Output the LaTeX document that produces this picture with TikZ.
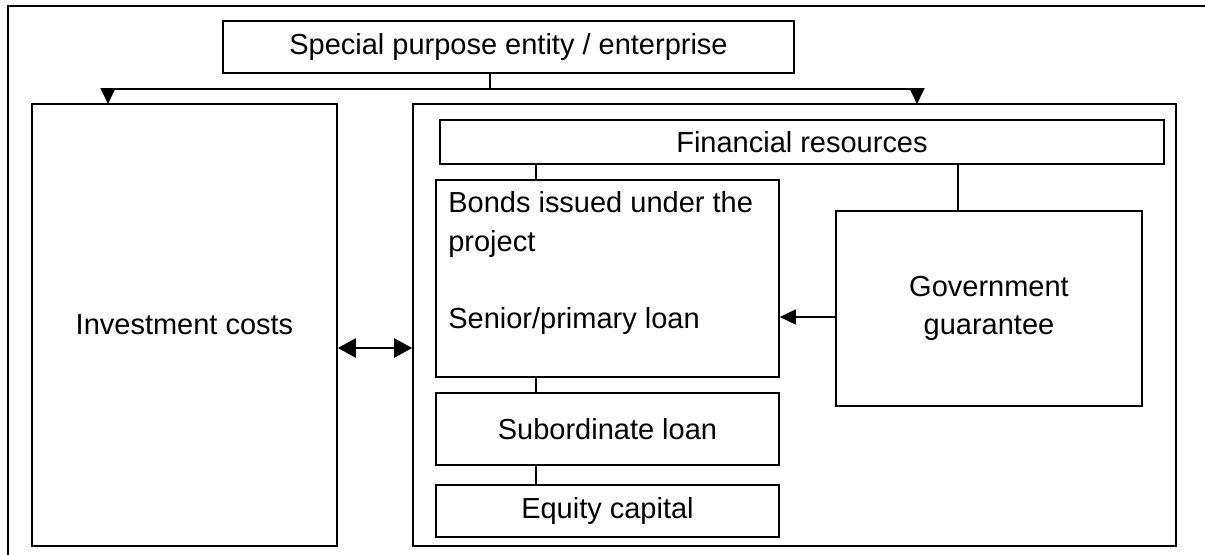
\documentclass[tikz,border=0pt]{standalone}
\usepackage{fontspec}
\setmainfont{Liberation Sans}
\usepackage{tikz}
\usetikzlibrary{arrows.meta}
\usetikzlibrary{positioning}

\tikzset{
	boxnode/.style={draw, line width=1pt, inner sep=0pt},
	onearrow/.style={line width=1pt, -{Triangle[length=0.32cm,width=0.3cm]}},
	twoarrow/.style={line width=1.4pt, {Triangle[length=0.36cm,width=0.38cm]}-{Triangle[length=0.36cm,width=0.38cm]}},
	stem/.style={line width=1pt}
}

\begin{document}
\begin{tikzpicture}[x=0.02cm, y=-0.02cm, font=\fontsize{16.5}{22}\selectfont]
		\useasboundingbox (0,0) rectangle (1205,555);
		% outer frame (only top and left side shown)
		\draw [line width=1.4pt] (8,555) -- (8,6) -- (1205,6);

		\node[boxnode, minimum width=11.42cm, minimum height=1.04cm] (spe) at (508.5,47) {Special purpose entity / enterprise};
		\node[boxnode, minimum width=6.1cm, minimum height=8.84cm] (invest) at (184.5,325) {Investment costs};
		\node[boxnode, minimum width=15.26cm, minimum height=8.84cm] (finframe) at (794.5,325) {};
		\node[boxnode, minimum width=14.48cm, minimum height=0.88cm] (fin) at (802,142) {Financial resources};
		\node[boxnode, minimum width=6.86cm, minimum height=3.94cm] (bonds) at (607.5,278.5) {};
		\node[anchor=north west, align=left, inner sep=0pt] (bondstext) at (448,191) {Bonds issued under the\\project\\[22pt]Senior/primary loan};
		\node[boxnode, minimum width=6.12cm, minimum height=3.9cm, align=center] (gov) at (989,308.5) {Government\\guarantee};
		\node[boxnode, minimum width=6.86cm, minimum height=1.44cm] (sub) at (607.5,429) {Subordinate loan};
		\node[boxnode, minimum width=6.86cm, minimum height=1.04cm] (equity) at (607.5,511) {Equity capital};

		% fork from the entity
		\coordinate (fork) at (490,89);
		\coordinate (lt) at (108,104);
		\coordinate (rt) at (917,104);
		\draw [stem] (spe.south -| fork) -- (fork);
		\draw [onearrow] (fork) -| (lt);
		\draw [onearrow] (fork) -| (rt);

		% stems inside the resources frame
		\coordinate (stemA) at (536,0);
		\coordinate (stemB) at (958,0);
		\draw [stem] (fin.south -| stemA) -- (bonds.north -| stemA);
		\draw [stem] (fin.south -| stemB) -- (gov.north -| stemB);
		\draw [stem] (bonds.south -| stemA) -- (sub.north -| stemA);
		\draw [stem] (sub.south -| stemA) -- (equity.north -| stemA);

		\coordinate (guar) at (0,317);
		\draw [onearrow] (gov.west |- guar) -- (bonds.east |- guar);
		\coordinate (link) at (0,348);
		\draw [twoarrow] (invest.east |- link) -- (finframe.west |- link);
\end{tikzpicture}
\end{document}
